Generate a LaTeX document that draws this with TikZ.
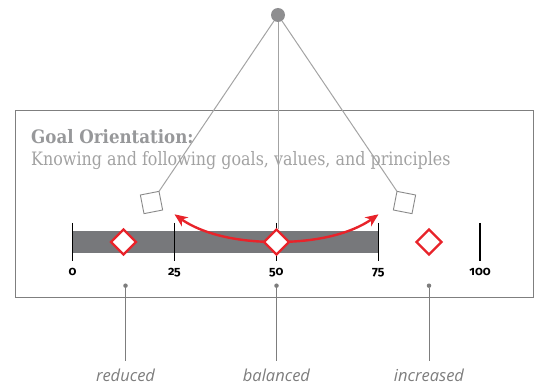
\documentclass[tikz,border=0pt]{standalone}
\usepackage{fontspec}
\usetikzlibrary{arrows.meta,shapes.geometric}
\newfontfamily\serifT[FakeStretch=0.86]{DejaVu Serif}
\newfontfamily\serifB[FakeStretch=0.90]{DejaVu Serif}
\newfontfamily\numF[Numbers=OldStyle]{Fira Sans}
\newfontfamily\labF{Open Sans}
\definecolor{framegray}{HTML}{7F7F7F}
\definecolor{rodgray}{HTML}{A3A3A3}
\definecolor{pivotgray}{HTML}{8E8E90}
\definecolor{bargray}{HTML}{77787B}
\definecolor{myred}{HTML}{E8232A}
\definecolor{titlegray}{HTML}{97989A}
\definecolor{subgray}{HTML}{A2A2A2}
\definecolor{labgray}{HTML}{7D7D7D}
\definecolor{bobgray}{HTML}{8A8A8A}
\begin{document}
\begin{tikzpicture}[x=1pt,y=-1pt,
  frame/.style={draw=framegray,line width=1.4pt},
  rod/.style={draw=rodgray,line width=1pt},
  bob/.style={rectangle,draw=bobgray,line width=0.9pt,fill=white,minimum size=19pt,inner sep=0pt,outer sep=0pt},
  tickline/.style={draw=black,line width=1.3pt},
  diam/.style={diamond,draw=myred,line width=2.4pt,fill=white,minimum size=25pt,inner sep=0pt,outer sep=0pt},
  swing/.style={draw=myred,line width=2.4pt,-{Stealth[length=13pt,width=11pt,inset=4pt]}},
  dot/.style={circle,fill=labgray,inner sep=0pt,minimum size=4.5pt},
  lead/.style={draw=labgray,line width=1pt},
  num/.style={font=\numF\bfseries\fontsize{12.5}{13}\selectfont,anchor=base,inner sep=0pt},
  lab/.style={font=\labF\itshape\fontsize{16.5}{17}\selectfont,text=labgray,anchor=base,inner sep=0pt},
  ttl/.style={font=\serifB\bfseries\fontsize{18.5}{19}\selectfont,text=titlegray,anchor=base west,inner sep=0pt},
  sub/.style={font=\serifT\fontsize{18.5}{19}\selectfont,text=subgray,anchor=base west,inner sep=0pt}
]
\useasboundingbox (0,0) rectangle (539,385);
% frame
\draw[frame] (15.7,110.7) rectangle (533.5,297.7);
% texts
\node[ttl] (title) at (31,143.5) {Goal Orientation:};
\node[sub] (subtitle) at (31,165.5) {Knowing and following goals, values, and principles};
% bar
\fill[bargray] (72.5,231) rectangle (378.2,253.5);
% ticks
\foreach \x/\v in {72.5/0,174.4/25,276.3/50,378.2/75,480.1/100}{
  \draw[tickline] (\x,223) -- (\x,261);
  \node[num] (n\v) at (\x,276) {\v};
}
% pendulum
\node[circle,fill=pivotgray,minimum size=14pt,inner sep=0pt] (pivot) at (278,15) {};
\node[bob,rotate=11] (sqL) at (151.5,202.5) {};
\node[bob,rotate=-11] (sqR) at (404.5,202.5) {};
\draw[rod] (pivot) -- (sqL.north east);
\draw[rod] (pivot) -- (sqR.north west);
\coordinate (mc) at (276.5,242);
\coordinate (tipL) at (174.5,214.3);
\coordinate (tipR) at (378.5,214.3);
\coordinate (rodEnd) at (278,229);
\draw[rod] (pivot) -- (rodEnd);
\draw[swing] (mc) .. controls (225,242) and (195,229) .. (tipL);
\draw[swing] (mc) .. controls (328,242) and (358,229) .. (tipR);
\node[diam] (dL) at (123.5,242) {};
\node[diam] (dM) at (mc) {};
\node[diam] (dR) at (429,242) {};
% bottom labels
\foreach \x/\t/\n in {125.5/reduced/a,276.5/balanced/b,429/increased/c}{
  \node[dot] (dot\n) at (\x,285.7) {};
  \coordinate (end\n) at (\x,360.5);
  \draw[lead] (dot\n) -- (end\n);
  \node[lab] (lab\n) at (\x,381.5) {\t};
}
\end{tikzpicture}
\end{document}
